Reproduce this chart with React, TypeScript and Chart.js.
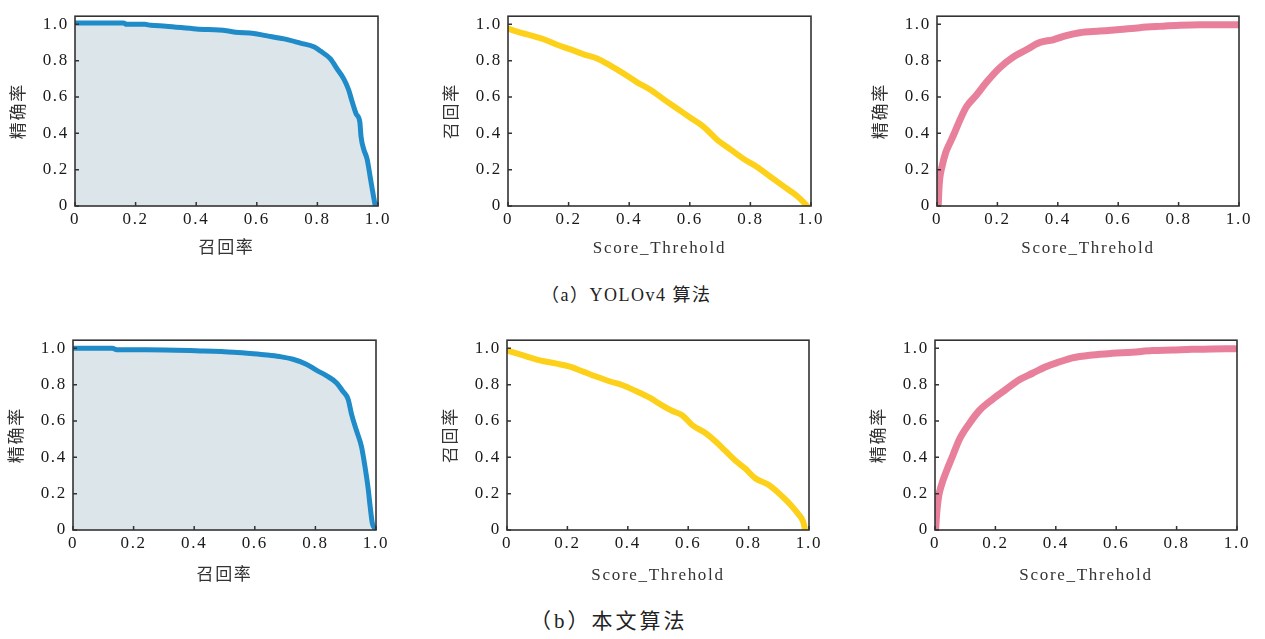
import React, { useEffect, useRef } from 'react';
import { Chart, registerables } from 'chart.js';

Chart.register(...registerables);

// ---------- data ----------
const tickValues = [0, 0.2, 0.4, 0.6, 0.8, 1.0];
const tickLabels = ['0', '0.2', '0.4', '0.6', '0.8', '1.0'];

// (a) YOLOv4: precision-recall
const yoloPrRecall = [0, 0.08, 0.16, 0.17, 0.23, 0.25, 0.3, 0.4, 0.5, 0.53, 0.59, 0.63, 0.69, 0.744, 0.79, 0.81, 0.843, 0.865, 0.887, 0.903, 0.914, 0.928, 0.94, 0.944, 0.953, 0.964, 0.975, 0.984, 0.991];
const yoloPrPrecision = [1.008, 1.008, 1.008, 1.0, 1.0, 0.995, 0.99, 0.975, 0.965, 0.957, 0.95, 0.938, 0.92, 0.897, 0.876, 0.853, 0.81, 0.755, 0.7, 0.64, 0.578, 0.507, 0.463, 0.383, 0.312, 0.259, 0.152, 0.064, 0.0];

// (a) YOLOv4: recall vs score threshold
const yoloRecallThreshold = [0, 0.03, 0.074, 0.118, 0.162, 0.206, 0.25, 0.294, 0.338, 0.382, 0.426, 0.47, 0.514, 0.558, 0.602, 0.646, 0.69, 0.734, 0.778, 0.822, 0.866, 0.91, 0.954, 0.976, 0.987];
const yoloRecallValues = [0.977, 0.96, 0.94, 0.918, 0.888, 0.862, 0.835, 0.812, 0.773, 0.729, 0.681, 0.64, 0.587, 0.537, 0.486, 0.436, 0.365, 0.312, 0.259, 0.215, 0.161, 0.108, 0.055, 0.02, 0.0];

// (a) YOLOv4: precision vs score threshold
const yoloPrecThreshold = [0.004, 0.006, 0.009, 0.017, 0.029, 0.042, 0.053, 0.075, 0.097, 0.13, 0.163, 0.207, 0.252, 0.296, 0.34, 0.384, 0.428, 0.472, 0.539, 0.605, 0.671, 0.737, 0.803, 0.87, 0.936, 1.0];
const yoloPrecValues = [0, 0.08, 0.15, 0.22, 0.295, 0.345, 0.384, 0.47, 0.545, 0.61, 0.68, 0.76, 0.82, 0.86, 0.9, 0.915, 0.938, 0.954, 0.963, 0.972, 0.982, 0.989, 0.995, 0.998, 0.998, 0.998];

// (b) ours: precision-recall
const oursPrRecall = [0, 0.13, 0.144, 0.243, 0.42, 0.53, 0.595, 0.64, 0.682, 0.726, 0.77, 0.803, 0.836, 0.87, 0.89, 0.908, 0.919, 0.935, 0.952, 0.963, 0.974, 0.981, 0.988, 0.996];
const oursPrPrecision = [1.0, 1.0, 0.993, 0.993, 0.986, 0.979, 0.971, 0.964, 0.955, 0.94, 0.913, 0.88, 0.85, 0.81, 0.765, 0.72, 0.64, 0.55, 0.46, 0.356, 0.23, 0.125, 0.036, 0.01];

// (b) ours: recall vs score threshold
const oursRecallThreshold = [0, 0.054, 0.109, 0.164, 0.208, 0.252, 0.295, 0.339, 0.383, 0.427, 0.471, 0.515, 0.548, 0.58, 0.613, 0.657, 0.69, 0.723, 0.756, 0.789, 0.822, 0.866, 0.91, 0.942, 0.964, 0.981, 0.986];
const oursRecallValues = [0.988, 0.961, 0.934, 0.916, 0.899, 0.872, 0.845, 0.819, 0.797, 0.765, 0.73, 0.685, 0.655, 0.632, 0.578, 0.534, 0.489, 0.436, 0.383, 0.338, 0.285, 0.249, 0.187, 0.133, 0.089, 0.044, 0.009];

// (b) ours: precision vs score threshold
const oursPrecThreshold = [0.002, 0.006, 0.012, 0.02, 0.037, 0.059, 0.081, 0.114, 0.147, 0.191, 0.235, 0.279, 0.323, 0.367, 0.411, 0.455, 0.521, 0.587, 0.653, 0.719, 0.785, 0.851, 0.916, 0.993];
const oursPrecValues = [0, 0.1, 0.185, 0.24, 0.32, 0.41, 0.5, 0.587, 0.658, 0.72, 0.774, 0.827, 0.863, 0.899, 0.925, 0.948, 0.964, 0.973, 0.979, 0.988, 0.991, 0.995, 0.996, 0.998];

const captionA = '（a）YOLOv4 算法';
const captionB = '（b）本文算法';

// ---------- styling ----------
const FONT_FAMILY = '"Liberation Serif", "Noto Sans CJK SC", serif';
const BLUE = '#1f8bc8';
const YELLOW = '#fdd11a';
const PINK = '#e8809c';
const FILL = '#dbe5ea';
const AXIS_W = 75;
const AXIS_H = 58;
const PAD_TOP = 10;
const PAD_RIGHT = 25;
const Y_MAX = 1.045;

const framePlugin = {
  id: 'frameTicks',
  beforeDraw(chart: any) {
    (chart.ctx as any).letterSpacing = '1.7px';
  },
  afterDraw(chart: any) {
    const { ctx, chartArea: a, scales } = chart;
    ctx.save();
    ctx.strokeStyle = '#333';
    ctx.lineWidth = 1.5;
    ctx.beginPath();
    scales.x.ticks.forEach((t: any) => {
      const px = scales.x.getPixelForValue(t.value);
      ctx.moveTo(px, a.bottom);
      ctx.lineTo(px, a.bottom - 4);
    });
    scales.y.ticks.forEach((t: any) => {
      const py = scales.y.getPixelForValue(t.value);
      ctx.moveTo(a.left, py);
      ctx.lineTo(a.left + 4, py);
    });
    ctx.stroke();
    ctx.lineWidth = 1.6;
    ctx.strokeRect(a.left, a.top, a.right - a.left, a.bottom - a.top);
    ctx.restore();
  },
};

type PanelProps = {
  xs: number[];
  ys: number[];
  color: string;
  width: number;
  fill: boolean;
  xTitle: string;
  yTitle: string;
  plotLeft: number;
  plotTop: number;
  plotW: number;
  plotH: number;
  xTitlePad: number;
};

const labelFor = (v: number) => {
  const i = tickValues.findIndex((t) => Math.abs(t - v) < 1e-6);
  return i >= 0 ? tickLabels[i] : '';
};

function Panel(p: PanelProps) {
  const ref = useRef<HTMLCanvasElement>(null);
  const cw = p.plotW + AXIS_W + PAD_RIGHT;
  const ch = p.plotH + PAD_TOP + AXIS_H;
  useEffect(() => {
    if (!ref.current) return;
    const tickFont = { family: FONT_FAMILY, size: 17 };
    const titleFont = { family: FONT_FAMILY, size: 17 };
    const chart = new Chart(ref.current, {
      type: 'line',
      data: {
        datasets: [
          {
            data: p.xs.map((x, i) => ({ x, y: p.ys[i] })),
            borderColor: p.color,
            borderWidth: p.width,
            pointRadius: 0,
            cubicInterpolationMode: 'monotone',
            borderJoinStyle: 'round',
            borderCapStyle: 'round',
            fill: p.fill ? 'origin' : false,
            backgroundColor: FILL,
          } as any,
        ],
      },
      options: {
        animation: false,
        responsive: false,
        devicePixelRatio: 1,
        events: [],
        layout: { padding: { top: PAD_TOP, right: PAD_RIGHT, left: 0, bottom: 0 } },
        plugins: { legend: { display: false }, tooltip: { enabled: false } },
        scales: {
          x: {
            type: 'linear',
            min: 0,
            max: 1,
            afterFit: (s: any) => { s.height = AXIS_H; },
            afterBuildTicks: (s: any) => { s.ticks = tickValues.map((v) => ({ value: v })); },
            grid: { display: false, drawTicks: false },
            border: { display: false },
            ticks: {
              padding: 3,
              color: '#1a1a1a',
              font: tickFont,
              autoSkip: false,
              maxRotation: 0,
              callback: (v: any) => labelFor(Number(v)),
            },
            title: {
              display: true,
              text: p.xTitle,
              color: '#333',
              font: titleFont,
              padding: { top: 0, bottom: p.xTitlePad },
            },
          },
          y: {
            type: 'linear',
            min: 0,
            max: Y_MAX,
            afterFit: (s: any) => { s.width = AXIS_W; },
            afterBuildTicks: (s: any) => { s.ticks = tickValues.map((v) => ({ value: v })); },
            grid: { display: false, drawTicks: false },
            border: { display: false },
            ticks: {
              padding: 6,
              color: '#1a1a1a',
              font: tickFont,
              autoSkip: false,
              callback: (v: any) => labelFor(Number(v)),
            },
            title: {
              display: true,
              text: p.yTitle,
              color: '#333',
              font: titleFont,
              padding: { top: 9, bottom: 0 },
            },
          },
        },
      } as any,
      plugins: [framePlugin],
    });
    return () => chart.destroy();
  }, []);
  return (
    <canvas
      ref={ref}
      width={cw}
      height={ch}
      style={{ position: 'absolute', left: p.plotLeft - AXIS_W, top: p.plotTop - PAD_TOP, width: cw, height: ch }}
    />
  );
}

export default function App() {
  const capStyle: React.CSSProperties = {
    position: 'absolute',
    fontFamily: FONT_FAMILY,
    color: '#222',
    whiteSpace: 'nowrap',
    lineHeight: '24px',
  };
  return (
    <div style={{ position: 'absolute', left: 0, top: 0, width: 1265, height: 639, background: '#fff', overflow: 'hidden' }}>
      <Panel xs={yoloPrRecall} ys={yoloPrPrecision} color={BLUE} width={5} fill={true} xTitle="召回率" yTitle="精确率" plotLeft={75} plotTop={10} plotW={303} plotH={196} xTitlePad={5} />
      <Panel xs={yoloRecallThreshold} ys={yoloRecallValues} color={YELLOW} width={6} fill={false} xTitle="Score_Threhold" yTitle="召回率" plotLeft={508} plotTop={10} plotW={303} plotH={196} xTitlePad={5} />
      <Panel xs={yoloPrecThreshold} ys={yoloPrecValues} color={PINK} width={7} fill={false} xTitle="Score_Threhold" yTitle="精确率" plotLeft={937} plotTop={10} plotW={302} plotH={196} xTitlePad={5} />
      <Panel xs={oursPrRecall} ys={oursPrPrecision} color={BLUE} width={5} fill={true} xTitle="召回率" yTitle="精确率" plotLeft={73} plotTop={334} plotW={303} plotH={196} xTitlePad={2} />
      <Panel xs={oursRecallThreshold} ys={oursRecallValues} color={YELLOW} width={6} fill={false} xTitle="Score_Threhold" yTitle="召回率" plotLeft={507} plotTop={334} plotW={302} plotH={196} xTitlePad={2} />
      <Panel xs={oursPrecThreshold} ys={oursPrecValues} color={PINK} width={7} fill={false} xTitle="Score_Threhold" yTitle="精确率" plotLeft={935} plotTop={334} plotW={302} plotH={196} xTitlePad={2} />
      <div style={{ ...capStyle, left: 541, top: 283, fontSize: 18, letterSpacing: '1.5px' }}>{captionA}</div>
      <div style={{ ...capStyle, left: 530, top: 609, fontSize: 21, letterSpacing: '3px' }}>{captionB}</div>
    </div>
  );
}
